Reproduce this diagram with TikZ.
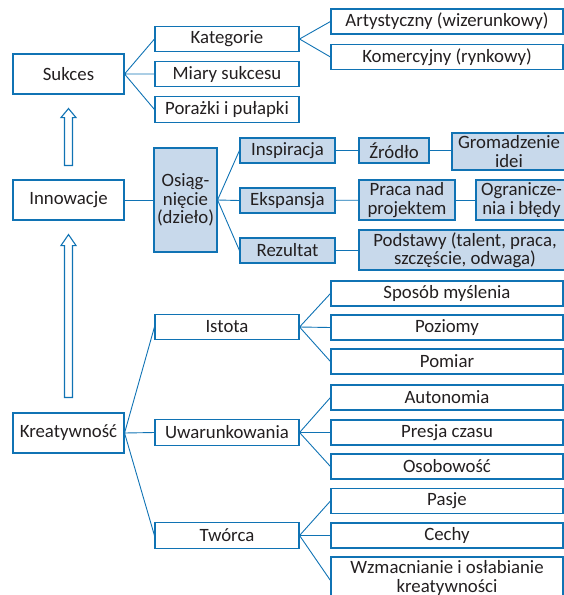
\documentclass[tikz,border=0pt]{standalone}
\usepackage{fontspec}
\setmainfont{Carlito}
\usetikzlibrary{positioning,calc}
\definecolor{Frame}{RGB}{16,115,180}
\definecolor{Pale}{RGB}{200,217,235}
\definecolor{Ink}{RGB}{35,31,32}

\begin{document}
\begin{tikzpicture}[
    x=1pt,y=-1pt,
    every node/.style={font=\fontsize{18.8}{18.5}\selectfont,text=Ink},
    box/.style={rectangle,draw=Frame,line width=1.1pt,inner sep=0pt,align=center},
    main/.style={box,minimum width=111pt,minimum height=40pt},
    mid/.style={box,minimum width=144pt,minimum height=25.5pt},
    leaf/.style={box,minimum width=232pt,minimum height=25pt},
    work/.style={box,fill=Pale,minimum height=25pt},
    link/.style={draw=Frame,line width=0.9pt},
    hollow/.style={draw=Frame,line width=1.1pt,fill=white}
]
\useasboundingbox (0,0) rectangle (564,595);
\clip (0,0) rectangle (564,595);

% Left column
\node[main] (sukces) at (68.5,74) {Sukces};
\node[main] (innow) at (68.5,200) {Innowacje};
\node[main] (kreat) at (68.5,433) {Kreatywność};

% Hollow arrows
\draw[hollow] let \p1=($(innow.north)+(0,-14)$), \p2=($(sukces.south)+(0,14)$) in
    (\x1-4pt,\y1) -- (\x1-4pt,\y2-9pt) -- (\x1-7.5pt,\y2-9pt) -- (\x2,\y2)
    -- (\x1+7.5pt,\y2-9pt) -- (\x1+4pt,\y2-9pt) -- (\x1+4pt,\y1) -- cycle;
\draw[hollow] let \p1=($(kreat.north)+(0,-15)$), \p2=($(innow.south)+(0,14)$) in
    (\x1-4pt,\y1) -- (\x1-4pt,\y2-11pt) -- (\x1-7.5pt,\y2-11pt) -- (\x2,\y2)
    -- (\x1+7.5pt,\y2-11pt) -- (\x1+4pt,\y2-11pt) -- (\x1+4pt,\y1) -- cycle;

% Sukces branch
\node[mid] (kateg) at (227,39) {Kategorie};
\node[mid] (miary) at (227,74) {Miary sukcesu};
\node[mid] (porazki) at (227,109.5) {Porażki i pułapki};
\node[leaf] (artyst) at (447,21.5) {Artystyczny (wizerunkowy)};
\node[leaf] (komerc) at (447,57) {Komercyjny (rynkowy)};

\draw[link] (sukces.east) -- (kateg.west) (sukces.east) -- (miary.west) (sukces.east) -- (porazki.west);
\draw[link] (kateg.east) -- (artyst.west) (kateg.east) -- (komerc.west);

% Innowacje branch
\node[work,minimum width=63pt,minimum height=104pt] (osiag) at (185.5,200) {Osiąg-\\nięcie\\(dzieło)};
\node[work,minimum width=95pt] (inspir) at (287.5,150.5) {Inspiracja};
\node[work,minimum width=95pt] (ekspan) at (287.5,200.5) {Ekspansja};
\node[work,minimum width=95pt] (rezult) at (287.5,250.5) {Rezultat};
\node[work,minimum width=70pt] (zrodlo) at (394,150.5) {Źródło};
\node[work,minimum width=114pt,minimum height=37pt] (gromad) at (509,151.5) {Gromadzenie\\idei};
\node[work,minimum width=96pt,minimum height=40pt] (praca) at (407,200) {Praca nad\\projektem};
\node[work,minimum width=91pt,minimum height=40pt] (ogranicz) at (521.5,200) {Ogranicze-\\nia i błędy};
\node[work,minimum width=212pt,minimum height=40pt] (podstawy) at (465,250) {Podstawy (talent, praca,\\szczęście, odwaga)};

\draw[link] (innow.east) -- (osiag.west);
\draw[link] (osiag.east) -- (inspir.west) (osiag.east) -- (ekspan.west) (osiag.east) -- (rezult.west);
\draw[link] (inspir) -- (zrodlo);
\draw[link] (zrodlo) -- (zrodlo -| gromad.west);
\draw[link] (ekspan) -- (praca);
\draw[link] (praca) -- (ogranicz);
\draw[link] (rezult) -- (rezult -| podstawy.west);

% Kreatywnosc branch
\node[mid] (istota) at (227,327) {Istota};
\node[mid] (uwarunk) at (227,432.5) {Uwarunkowania};
\node[mid] (tworca) at (227,535.5) {Twórca};

\node[leaf] (sposob) at (447,293.5) {Sposób myślenia};
\node[leaf] (poziomy) at (447,327.5) {Poziomy};
\node[leaf] (pomiar) at (447,361.5) {Pomiar};
\node[leaf] (autonom) at (447,397.5) {Autonomia};
\node[leaf] (presja) at (447,432.5) {Presja czasu};
\node[leaf] (osobow) at (447,466.5) {Osobowość};
\node[leaf] (pasje) at (447,501) {Pasje};
\node[leaf] (cechy) at (447,535.5) {Cechy};
\node[leaf,minimum height=42pt] (wzmacn) at (447,578) {Wzmacnianie i osłabianie\\kreatywności};

\draw[link] (kreat.east) -- (istota.west) (kreat.east) -- (uwarunk.west) (kreat.east) -- (tworca.west);
\draw[link] (istota.east) -- (sposob.west) (istota.east) -- (poziomy.west) (istota.east) -- (pomiar.west);
\draw[link] (uwarunk.east) -- (autonom.west) (uwarunk.east) -- (presja.west) (uwarunk.east) -- (osobow.west);
\draw[link] (tworca.east) -- (pasje.west) (tworca.east) -- (cechy.west) (tworca.east) -- ($(wzmacn.north west)+(0,24)$);

\end{tikzpicture}
\end{document}
